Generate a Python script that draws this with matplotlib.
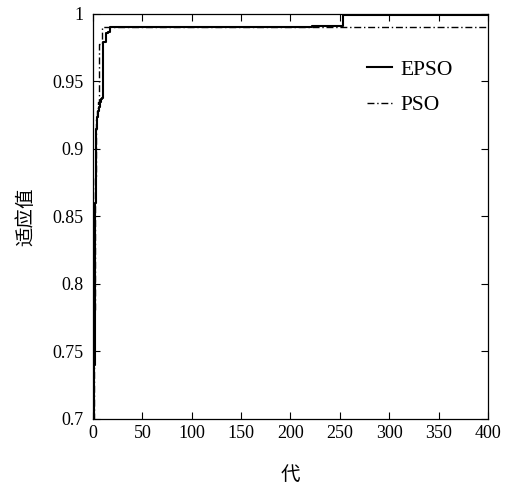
import matplotlib
matplotlib.use("Agg")
import matplotlib.pyplot as plt

plt.rcParams['font.family'] = ['Liberation Serif', 'Noto Sans CJK SC']

# EPSO 适应值（按代记录的转折点，阶梯式）
epso_gen = [0, 1, 2, 3, 4, 5, 6, 7, 8, 9, 10, 13, 15, 17, 222, 253, 400]
epso_fit = [0.700, 0.740, 0.860, 0.915, 0.924, 0.928, 0.931, 0.935, 0.937, 0.938,
            0.979, 0.986, 0.987, 0.990, 0.991, 0.9995, 0.9995]

# PSO 适应值
pso_gen = [0, 1, 2, 3, 4, 5, 6, 9, 400]
pso_fit = [0.700, 0.780, 0.880, 0.922, 0.930, 0.935, 0.978, 0.990, 0.990]

xticks = [0, 50, 100, 150, 200, 250, 300, 350, 400]
yticks = [0.7, 0.75, 0.8, 0.85, 0.9, 0.95, 1.0]
ytick_labels = ["0.7", "0.75", "0.8", "0.85", "0.9", "0.95", "1"]

fig = plt.figure(figsize=(5.12, 4.86), dpi=100)
ax = fig.add_axes([0.1816, 0.1379, 0.7714, 0.8333])

ax.step(epso_gen, epso_fit, where="post", color="black", lw=1.5, label="EPSO")
ax.step(pso_gen, pso_fit, where="post", color="black", lw=1.0,
        linestyle=(0, (5, 2, 1, 2)), label="PSO")

ax.set_xlim(0, 400)
ax.set_ylim(0.7, 1.0)
ax.set_xticks(xticks)
ax.set_yticks(yticks)
ax.set_yticklabels(ytick_labels)
ax.tick_params(direction="in", top=True, right=True, length=5, width=0.8,
               labelsize=13)
ax.tick_params(axis="x", pad=4)
ax.tick_params(axis="y", pad=7)
for sp in ax.spines.values():
    sp.set_linewidth(0.9)

ax.set_xlabel("代", family=['Noto Sans CJK SC'], fontsize=14, labelpad=16)
ax.set_ylabel("适应值", family=['Noto Sans CJK SC'], fontsize=14, labelpad=11)

ax.legend(loc="upper left", bbox_to_anchor=(0.646, 0.935), frameon=False,
          fontsize=15.5, handlelength=1.15, handletextpad=0.4, labelspacing=0.72)

fig.savefig("out.png", dpi=100)
